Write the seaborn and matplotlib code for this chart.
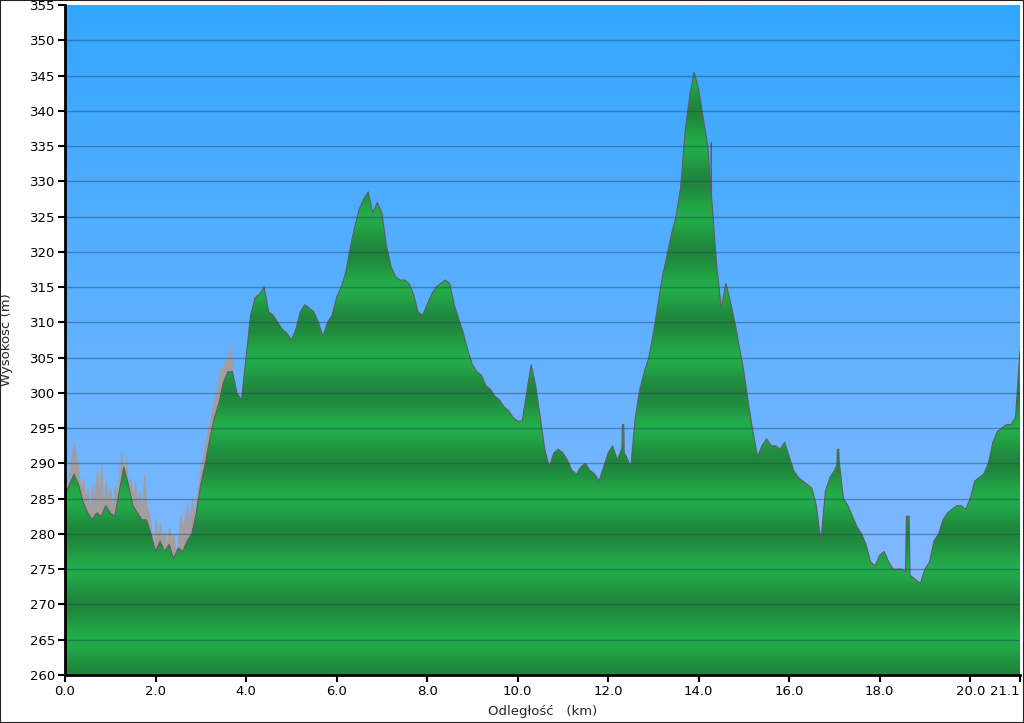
import numpy as np
import matplotlib
matplotlib.use("Agg")
import matplotlib.pyplot as plt
import seaborn as sns

# elevation profile (smoothed), sampled every 0.1 km from 0.0 to 21.1 km
step_km = 0.1
elevation = [
    285.5, 287, 288.5, 287, 284.5, 283, 282, 283, 282.5, 284,
    283, 282.5, 286, 289.5, 287, 284, 283, 282, 282, 280,
    277.5, 279, 277.5, 278.5, 276.5, 278, 277.5, 279, 280, 283,
    287, 290, 293.5, 296.5, 298.5, 301.5, 303, 303, 300, 299,
    305, 311, 313.5, 314, 315, 311.5, 311, 310, 309, 308.5,
    307.5, 309, 311.5, 312.5, 312, 311.5, 310, 308, 310, 311,
    313.5, 315, 317, 320.5, 323.5, 326, 327.5, 328.5, 325.5, 327,
    325.5, 321, 318, 316.5, 316, 316, 315.5, 314, 311.5, 311,
    312.5, 314, 315, 315.5, 316, 315.5, 312.5, 310.5, 308.5, 306,
    304, 303, 302.5, 301, 300.5, 299.5, 299, 298, 297.5, 296.5,
    296, 296, 300, 304, 301, 296.5, 292, 289.5, 291.5, 292,
    291.5, 290.5, 289, 288.5, 289.5, 290, 289, 288.5, 287.5, 289.5,
    291.5, 292.5, 290.5, 292, 291, 289.5, 296.5, 300.5, 303, 305,
    308.5, 312.5, 316.5, 319.5, 322.5, 325, 329, 337, 342, 345.5,
    343, 339, 335, 326.5, 318, 312, 315.5, 313, 310, 306.5,
    303, 298.5, 294.5, 291, 292.5, 293.5, 292.5, 292.5, 292, 293,
    291, 289, 288, 287.5, 287, 286.5, 284, 279, 286, 288,
    289, 290.5, 285, 284, 282.5, 281, 280, 278.5, 276, 275.5,
    277, 277.5, 276, 275, 275, 275, 274.5, 274, 273.5, 273,
    275, 276, 279, 280, 282, 283, 283.5, 284, 284, 283.5,
    285, 287.5, 288, 288.5, 290, 293, 294.5, 295, 295.5, 295.5,
    296.5, 306,
]
distance = np.round(np.arange(len(elevation)) * step_km, 2)

# raw (noisy) GPS elevation at the start, every 0.05 km from 0.0 to 3.7 km
raw_step_km = 0.05
raw_elevation = [
    287.5, 286, 289, 291.5, 293, 291, 289, 286, 288, 285,
    286.5, 283.5, 287, 285, 289, 286, 290, 284, 287.5, 285,
    286.5, 283, 287, 285, 289, 291.5, 288, 290.5, 286, 288,
    285, 287.5, 284, 286, 283.5, 288.5, 284, 283, 281, 278,
    282, 280, 281.5, 279, 280.5, 278.5, 281, 279.5, 280, 277,
    279, 283, 280.5, 282.5, 284.5, 281, 285, 283, 285, 287,
    289.5, 291, 293, 295, 296, 298, 299, 300.5, 302.5, 303.5,
    304, 304.5, 305, 306.5, 304,
]
raw_distance = np.round(np.arange(len(raw_elevation)) * raw_step_km, 3)

# narrow spikes in the profile (position, top, half width in km)
spike_km = [12.33, 14.28, 17.08, 18.62]
spike_top = [295.5, 335.5, 292, 282.5]
spike_half = [0.025, 0.004, 0.025, 0.05]

x_ticks = [0, 2, 4, 6, 8, 10, 12, 14, 16, 18, 20, 21.1]
x_tick_labels = ["0.0", "2.0", "4.0", "6.0", "8.0", "10.0", "12.0",
                 "14.0", "16.0", "18.0", "20.0", "21.1"]
y_ticks = list(range(260, 356, 5))

sns.set_style("white")
plt.rcParams['font.family'] = ['DejaVu Sans']

fig = plt.figure(figsize=(10.24, 7.23), dpi=100)
ax = fig.add_axes([65 / 1024, 1 - 675 / 723, 955 / 1024, 670 / 723])

x_min, x_max = 0, 21.1
y_min, y_max = 260, 355

# merge the spikes into the profile outline
keep = np.ones(len(distance), dtype=bool)
for k, h in zip(spike_km, spike_half):
    keep &= np.abs(distance - k) > h
px = list(distance[keep])
py = list(np.array(elevation)[keep])
for k, top, h in zip(spike_km, spike_top, spike_half):
    base_l = np.interp(k - h, distance, elevation)
    base_r = np.interp(k + h, distance, elevation)
    px += [k - h, k - h * 0.6, k + h * 0.6, k + h]
    py += [base_l, top, top, base_r]
order = np.argsort(px, kind="stable")
prof_x = np.array(px)[order]
prof_y = np.array(py)[order]

# sky gradient
top_col = np.array([51, 166, 255]) / 255
bot_col = np.array([143, 188, 255]) / 255
t = np.linspace(0, 1, 256)[:, None]
sky = bot_col * (1 - t) + top_col * t
ax.imshow(sky[:, None, :], extent=[x_min, x_max, y_min, y_max],
          origin="lower", aspect="auto", zorder=0)

# grey raw fill
ax.fill_between(raw_distance, y_min, raw_elevation, color="#a39e9e",
                linewidth=0.6, edgecolor="#a39e9e", zorder=1)

# green banded fill, clipped to the profile
poly = ax.fill_between(prof_x, y_min, prof_y, color="none",
                       linewidth=0, zorder=2)
yy = np.linspace(y_min, y_max, 1200)
band = (1 - np.cos(2 * np.pi * (yy - 260) / 10)) / 2
dark = np.array([31, 134, 60]) / 255
bright = np.array([35, 172, 74]) / 255
green = dark * (1 - band[:, None]) + bright * band[:, None]
im = ax.imshow(green[:, None, :], extent=[x_min, x_max, y_min, y_max],
               origin="lower", aspect="auto", zorder=2)
im.set_clip_path(poly.get_paths()[0], transform=ax.transData)

# profile edge
sns.lineplot(x=prof_x, y=prof_y, ax=ax, color="#5e5e5e", sort=False,
             linewidth=0.8, zorder=3)

# horizontal grid
for y in y_ticks[1:-1]:
    ax.axhline(y, color="#1d3d5c", alpha=0.42, linewidth=1, zorder=4)

ax.set_xlim(x_min, x_max)
ax.set_ylim(y_min, y_max)
ax.set_xticks(x_ticks)
ax.set_xticklabels(x_tick_labels)
ax.get_xticklabels()[-1].set_horizontalalignment("right")
ax.set_yticks(y_ticks)
ax.tick_params(axis="both", direction="out", length=5, width=1.5,
               colors="black", labelsize=9.5, pad=2,
               bottom=True, left=True)
for side in ["top", "right"]:
    ax.spines[side].set_visible(False)
for side in ["left", "bottom"]:
    ax.spines[side].set_color("black")
    ax.spines[side].set_linewidth(2)
    ax.spines[side].set_zorder(6)

ax.set_xlabel("Odległość   (km)", fontsize=9.5, labelpad=5)
ax.set_ylabel("Wysokość (m)", fontsize=9.5, labelpad=12)

# outer frame
fig.patches.append(plt.Rectangle((0, 0), 1, 1, transform=fig.transFigure,
                                 fill=False, edgecolor="#222222",
                                 linewidth=1.5))

fig.savefig("out.png", dpi=100)
